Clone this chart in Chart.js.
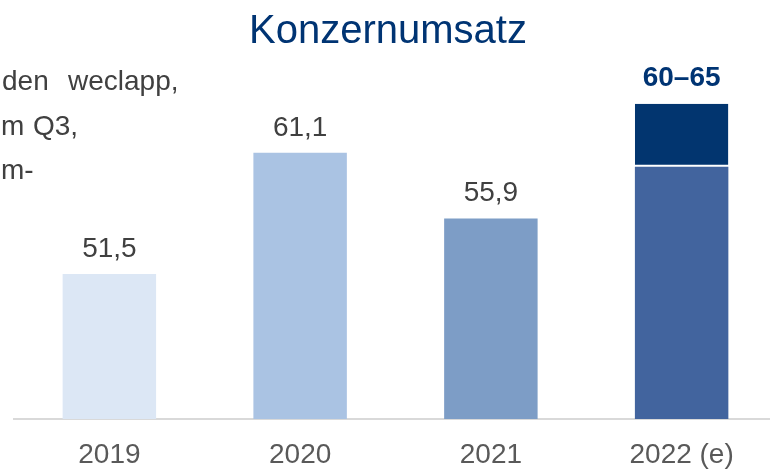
<!DOCTYPE html>
<html>
<head>
<meta charset="utf-8">
<script src="https://cdn.jsdelivr.net/npm/chart.js@4"></script>
<style>
  html, body { margin: 0; padding: 0; background: #fff; overflow: hidden; }
  #wrap { position: relative; width: 777px; height: 471px; }
</style>
</head>
<body>
<div id="wrap"><canvas id="umsatz"></canvas></div>
<script>
const titel = "Konzernumsatz";
const years = ["2019", "2020", "2021", "2022 (e)"];
const umsatz = [51.5, 61.1, 55.9, 60];
const spanne = [null, null, null, 5];
const labelsUmsatz = ["51,5", "61,1", "55,9", "60–65"];
const barColors = ["#DCE7F5", "#AAC3E3", "#7D9DC6", "#42649E"];
const spanneColor = "#02356F";
// abgeschnittener Text der Nachbarspalte auf der Folie
const textLines = [["den", "weclapp,"], ["m", "Q3,"], ["m-"]];

const FONT = "'Liberation Sans', Arial, sans-serif";

const labelPlugin = {
    id: "labels",
    afterDatasetsDraw(chart) {
        const ctx = chart.ctx;
        const base = chart.getDatasetMeta(0).data;
        const top = chart.getDatasetMeta(1).data;
        ctx.save();
        ctx.textAlign = "center";
        ctx.textBaseline = "alphabetic";

        // Titel (auf der Folie nicht mittig zum Diagramm)
        ctx.font = "40px " + FONT;
        ctx.fillStyle = "#003473";
        ctx.fillText(titel, 388, 43);

        base.forEach((bar, i) => {
            if (spanne[i] != null) {
                ctx.font = "bold 28px " + FONT;
                ctx.fillStyle = "#003473";
                ctx.fillText(labelsUmsatz[i], bar.x, top[i].y - 18);
            } else {
                ctx.font = "28px " + FONT;
                ctx.fillStyle = "#404040";
                ctx.fillText(labelsUmsatz[i], bar.x, bar.y - 17);
            }
        });

        // Seitentext links
        ctx.textAlign = "left";
        ctx.font = "28px " + FONT;
        ctx.fillStyle = "#404040";
        ctx.fillText(textLines[0][0], 2, 90);
        ctx.fillText(textLines[0][1], 68, 90);
        ctx.fillText(textLines[1][0], 1, 135);
        ctx.fillText(textLines[1][1], 33, 135);
        ctx.fillText(textLines[2][0], 1, 179);
        ctx.restore();
    }
};

new Chart(document.getElementById("umsatz"), {
    type: "bar",
    data: {
        labels: years,
        datasets: [{
            data: umsatz,
            backgroundColor: barColors,
            borderWidth: 0
        }, {
            data: spanne,
            backgroundColor: spanneColor,
            borderColor: "#ffffff",
            borderWidth: {top: 0, left: 0, right: 0, bottom: 2},
            borderSkipped: false
        }]
    },
    options: {
        responsive: true,
        maintainAspectRatio: false,
        animation: false,
        layout: {padding: {left: 14, right: 0, top: 62, bottom: -20}},
        datasets: {bar: {categoryPercentage: 1, barPercentage: 0.49}},
        plugins: {
            legend: {display: false},
            tooltip: {enabled: false},
            title: {display: false}
        },
        scales: {
            x: {
                stacked: true,
                grid: {display: false, drawTicks: false},
                border: {display: true, color: "#D9D9D9", width: 2},
                ticks: {
                    color: "#595959",
                    padding: 22,
                    font: {family: FONT, size: 28, lineHeight: 1}
                }
            },
            y: {
                stacked: true,
                display: false,
                min: 40,
                max: 68.3
            }
        }
    },
    plugins: [labelPlugin]
});
</script>
</body>
</html>
